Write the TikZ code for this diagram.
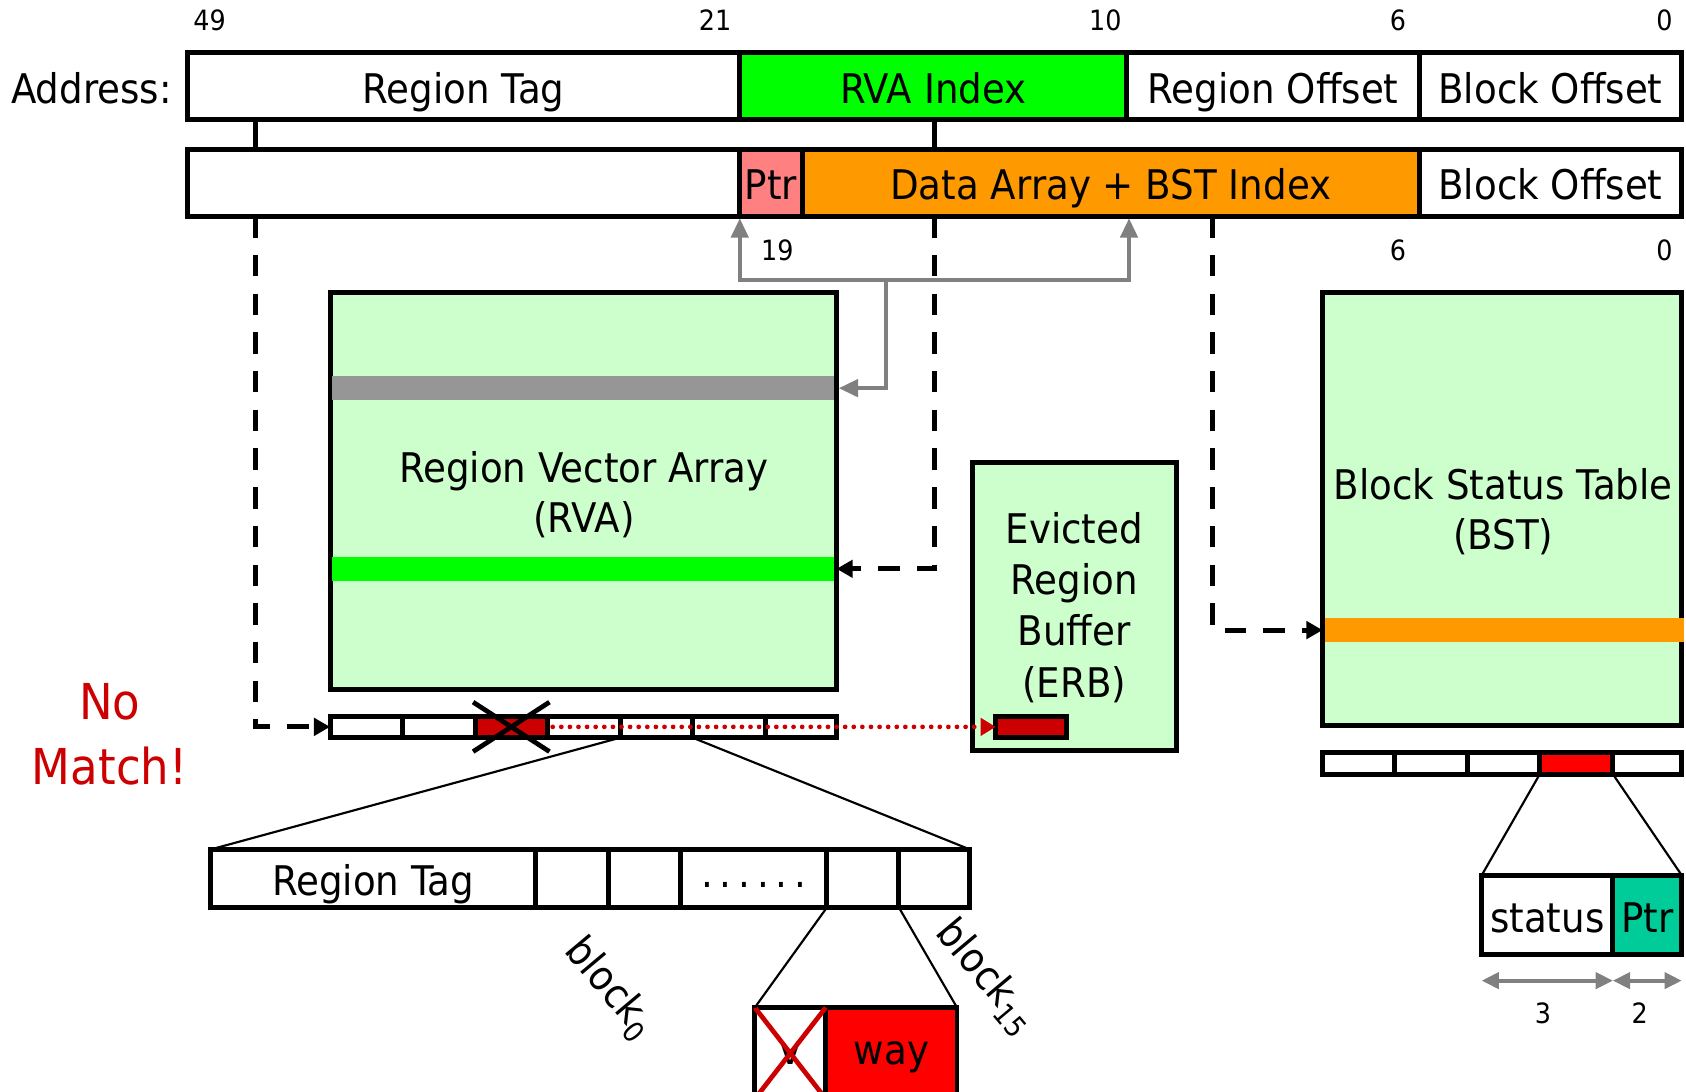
\documentclass[tikz,border=0pt]{standalone}
\usepackage{fontspec}
\setmainfont{DejaVu Sans}[FakeStretch=0.91]
\usetikzlibrary{arrows.meta,calc}

\definecolor{lightgreen}{HTML}{CCFFCC}
\definecolor{brightgreen}{HTML}{00FF00}
\definecolor{orangefill}{HTML}{FF9900}
\definecolor{pinkfill}{HTML}{FF8080}
\definecolor{stripegray}{HTML}{969696}
\definecolor{arrowgray}{HTML}{808080}
\definecolor{darkred}{HTML}{CC0000}
\definecolor{brightred}{HTML}{FF0000}
\definecolor{ptrteal}{HTML}{00CC99}

\newcommand\bigfont{\fontsize{19}{23.5}\selectfont}
\newcommand\numfont{\fontsize{13}{15}\selectfont}
\newcommand\alertfont{\fontsize{23}{30}\selectfont}

% rectangular cell given by its top-left and bottom-right corners
\newcommand\bitcell[7]{%
  \node[cellbase,#6,minimum width={(#4-#2)*0.5pt},minimum height={(#5-#3)*0.5pt},
        anchor=north west] (#1) at (#2,#3) {#7};}

\tikzset{
  cellbase/.style={draw, line width=2.3pt, inner sep=0pt, outer sep=0pt,
                   font=\bigfont, text height=15.9pt, text depth=0pt},
  blank/.style={text height=0pt, text depth=0pt},
  stripe/.style={draw=none, blank},
  txt/.style={font=\bigfont, inner sep=0pt},
  num/.style={font=\numfont, inner sep=0pt},
  solidlink/.style={line width=2.3pt},
  dashlink/.style={line width=2.3pt, dash pattern=on 10pt off 8pt,
                   -{Triangle[length=7.5pt,width=8pt]}},
  garrow/.style={arrowgray, line width=1.85pt, shorten >=1pt,
                 -{Triangle[length=9pt,width=8pt]}},
  dimarrow/.style={arrowgray, line width=1.8pt,
                   {Triangle[length=8pt,width=7.5pt]}-{Triangle[length=8pt,width=7.5pt]}},
  fan/.style={line width=1pt},
  xmark/.style={line width=2.2pt},
  redx/.style={darkred, line width=2.2pt},
  reddots/.style={darkred, line width=2.2pt, line cap=round,
                  dash pattern=on 0pt off 4pt,
                  -{Triangle[length=7pt,width=8pt]}},
}

\begin{document}
\begin{tikzpicture}[x=0.5pt, y=-0.5pt]
\useasboundingbox (0,0) rectangle (1568,1015);
\fill[white] (0,0) rectangle (1568,1015);

% bit positions of the address
\node[num] (n49) at (195,19) {49};
\node[num] (n21) at (665,19) {21};
\node[num] (n10) at (1028,19) {10};
\node[num] (n6a) at (1300,19) {6};
\node[num] (n0a) at (1548,19) {0};

% address fields
\node[txt, anchor=east, text height=15.9pt, text depth=0pt] (addr) at (160,80) {Address:};
\bitcell{rtag}{174}{49}{688}{111}{fill=white}{Region Tag}
\bitcell{rvaidx}{688}{49}{1048}{111}{fill=brightgreen}{RVA Index}
\bitcell{roff}{1048}{49}{1320}{111}{fill=white}{Region Offset}
\bitcell{boff}{1320}{49}{1564}{111}{fill=white}{Block Offset}

% data-array view of the address
\bitcell{hi}{174}{139}{688}{201}{fill=white, blank}{}
\bitcell{ptr}{688}{139}{746}{201}{fill=pinkfill}{Ptr}
\bitcell{dab}{746}{139}{1320}{201}{fill=orangefill}{Data Array + BST Index}
\bitcell{boffb}{1320}{139}{1564}{201}{fill=white}{Block Offset}

\node[num] (n19) at (723,233) {19};
\node[num] (n6b) at (1300,233) {6};
\node[num] (n0b) at (1548,233) {0};

% region vector array
\bitcell{rva}{307}{272}{778}{641}{fill=lightgreen, blank}{}
\bitcell{graystripe}{309}{350}{776}{372}{stripe, fill=stripegray}{}
\bitcell{greenstripe}{309}{518}{776}{540}{stripe, fill=brightgreen}{}
\node[txt, align=center] (rvalabel) at (543,460) {Region Vector Array\\(RVA)};

% one RVA entry
\bitcell{rc1}{307}{666}{374}{686}{fill=white, blank}{}
\bitcell{rc2}{374}{666}{442}{686}{fill=white, blank}{}
\bitcell{rc3}{442}{666}{509}{686}{fill=darkred, blank}{}
\bitcell{rc4}{509}{666}{577}{686}{fill=white, blank}{}
\bitcell{rc5}{577}{666}{644}{686}{fill=white, blank}{}
\bitcell{rc6}{644}{666}{712}{686}{fill=white, blank}{}
\bitcell{rc7}{712}{666}{778}{686}{fill=white, blank}{}

% evicted region buffer
\bitcell{erb}{904}{430}{1094}{698}{fill=lightgreen, blank}{}
\node[txt, align=center, font=\fontsize{19}{23.8}\selectfont] (erblabel) at (999,565)
  {Evicted\\Region\\Buffer\\(ERB)};
\bitcell{erbslot}{926}{666}{992}{686}{fill=darkred, blank}{}

% block status table
\bitcell{bst}{1230}{272}{1564}{675}{fill=lightgreen, blank}{}
\bitcell{orangestripe}{1232}{575}{1566}{597}{stripe, fill=orangefill}{}
\node[txt, align=center] (bstlabel) at (1398,476) {Block Status Table\\(BST)};

% one BST row
\bitcell{bc1}{1230}{700}{1297}{720}{fill=white, blank}{}
\bitcell{bc2}{1297}{700}{1365}{720}{fill=white, blank}{}
\bitcell{bc3}{1365}{700}{1432}{720}{fill=white, blank}{}
\bitcell{bc4}{1432}{700}{1500}{720}{fill=brightred, blank}{}
\bitcell{bc5}{1500}{700}{1564}{720}{fill=white, blank}{}

% BST entry fields
\bitcell{status}{1378}{814}{1500}{888}{fill=white}{status}
\bitcell{sptr}{1500}{814}{1564}{888}{fill=ptrteal}{Ptr}
\draw[fan] (bc4.south west) -- (status.north west);
\draw[fan] (bc4.south east) -- (sptr.north east);
\draw[dimarrow] ($(status.south west)+(0,24)$) -- ($(status.south east)+(0,24)$);
\draw[dimarrow] ($(sptr.south west)+(0,24)$) -- ($(sptr.south east)+(0,24)$);
\node[num] (w3) at (1435,942) {3};
\node[num] (w2) at (1525,942) {2};

% region vector entry layout
\bitcell{lt}{196}{790}{498}{844}{fill=white}{Region Tag}
\bitcell{lb0}{498}{790}{566}{844}{fill=white, blank}{}
\bitcell{lb1}{566}{790}{633}{844}{fill=white, blank}{}
\bitcell{ldots}{633}{790}{769}{844}{fill=white, text height=8pt}{.\,.\,.\,.\,.\,.}
\bitcell{lb14}{769}{790}{836}{844}{fill=white, blank}{}
\bitcell{lb15}{836}{790}{902}{844}{fill=white, blank}{}
\draw[fan] (rc5.south west) -- (lt.north west);
\draw[fan] (rc5.south east) -- (lb15.north east);

\node[txt, rotate=-50] (blk0) at (567,920) {block\textsubscript{0}};
\node[txt, rotate=-50] (blk15) at (917,909) {block\textsubscript{15}};

% per-block valid bit and way
\bitcell{vcell}{702}{937}{768}{1022}{fill=white, blank}{}
\bitcell{waycell}{768}{937}{890}{1022}{fill=brightred, blank}{}
\node[txt, anchor=base] (vtxt) at (735,990) {v};
\node[txt, anchor=base] (waytxt) at (829,990) {way};
\draw[redx] (vcell.north west) -- (vcell.south east);
\draw[redx] (vcell.north east) -- (vcell.south west);
\draw[fan] (lb14.south west) -- (vcell.north west);
\draw[fan] (lb14.south east) -- (waycell.north east);

% tag mismatch
\draw[xmark] ($(rc3.north west)+(-2,-13)$) -- ($(rc3.south east)+(2,13)$);
\draw[xmark] ($(rc3.north east)+(2,-13)$) -- ($(rc3.south west)+(-2,13)$);
\node[txt, align=center, font=\alertfont, text=darkred] (nomatch) at (102,683) {No\\Match!};
\draw[reddots] ($(rc3.east)+(5,0)$) -- (erbslot.west);

% links from the address fields
\draw[solidlink] ($(rtag.south west)+(64,0)$) -- ($(hi.north west)+(64,0)$);
\draw[solidlink] ($(rvaidx.south west)+(181,0)$) -- ($(dab.north west)+(123,0)$);
\draw[dashlink] ($(hi.south west)+(64,0)$) |- (rc1.west);
\draw[dashlink] ($(dab.south west)+(123,0)$) |- (greenstripe.east -| rva.east);
\draw[dashlink] ($(dab.south west)+(382,0)$) |- (orangestripe.west -| bst.west);

% pointer selects the RVA row and the data-array index
\coordinate (split) at (824,260);
\draw[garrow] (split) -| (ptr.south west);
\draw[garrow] (split) -| ($(dab.south west)+(304,0)$);
\draw[garrow] (split) |- (graystripe.east -| rva.east);
\end{tikzpicture}
\end{document}
